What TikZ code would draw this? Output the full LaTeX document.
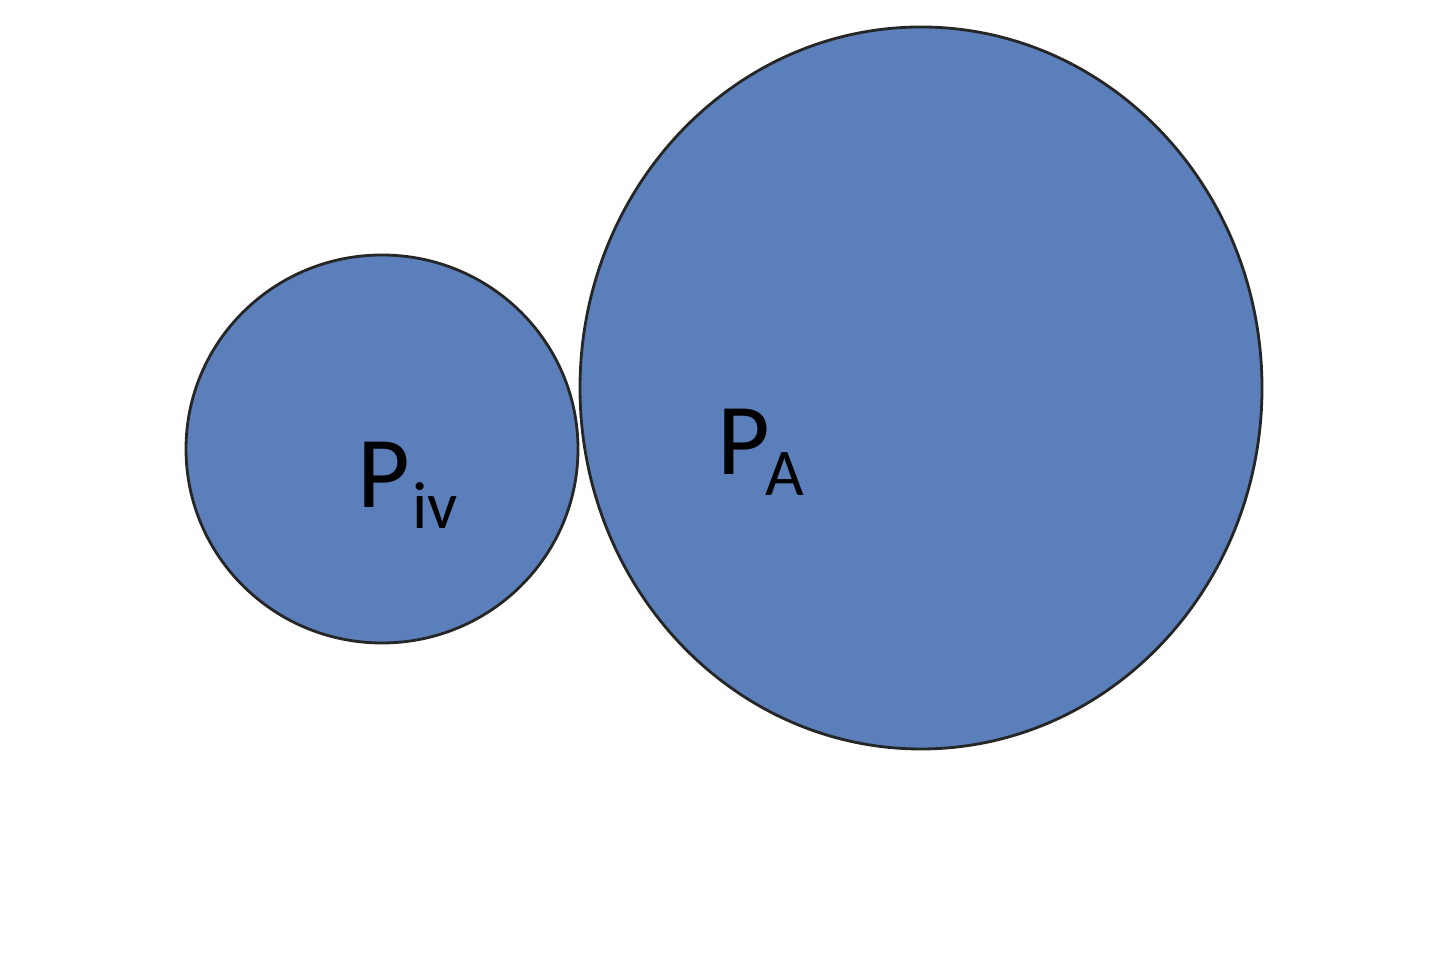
\documentclass[tikz,border=0pt]{standalone}
\usepackage{fontspec}
\setmainfont{Carlito}
\usetikzlibrary{shapes.geometric}
\definecolor{blobblue}{HTML}{5B7FBA}
\newcommand{\sub}[1]{\raisebox{-0.21cm}{\fontsize{19}{19}\selectfont #1}}

\begin{document}
\begin{tikzpicture}[blob/.style={draw=black!85, ellipse, fill=blobblue, line width=0.8pt, inner sep=0pt},
    lbl/.style={anchor=base west, inner sep=0pt, font=\fontsize{29}{29}\selectfont}]
    \useasboundingbox (0,0) rectangle (14.4,9.56);
    % Circles
    \node[blob, minimum width=3.92cm, minimum height=3.88cm] (small) at (3.82,5.07) {};
    \node[blob, minimum width=6.82cm, minimum height=7.22cm] (large) at (9.21,5.68) {};

    % Labels
    \node[lbl] (label-small) at (3.57,4.48) {P\kern0.02cm\sub{iv}};
    \node[lbl] (label-large) at (7.17,4.81) {P\kern-0.05cm\sub{A}};
\end{tikzpicture}
\end{document}
